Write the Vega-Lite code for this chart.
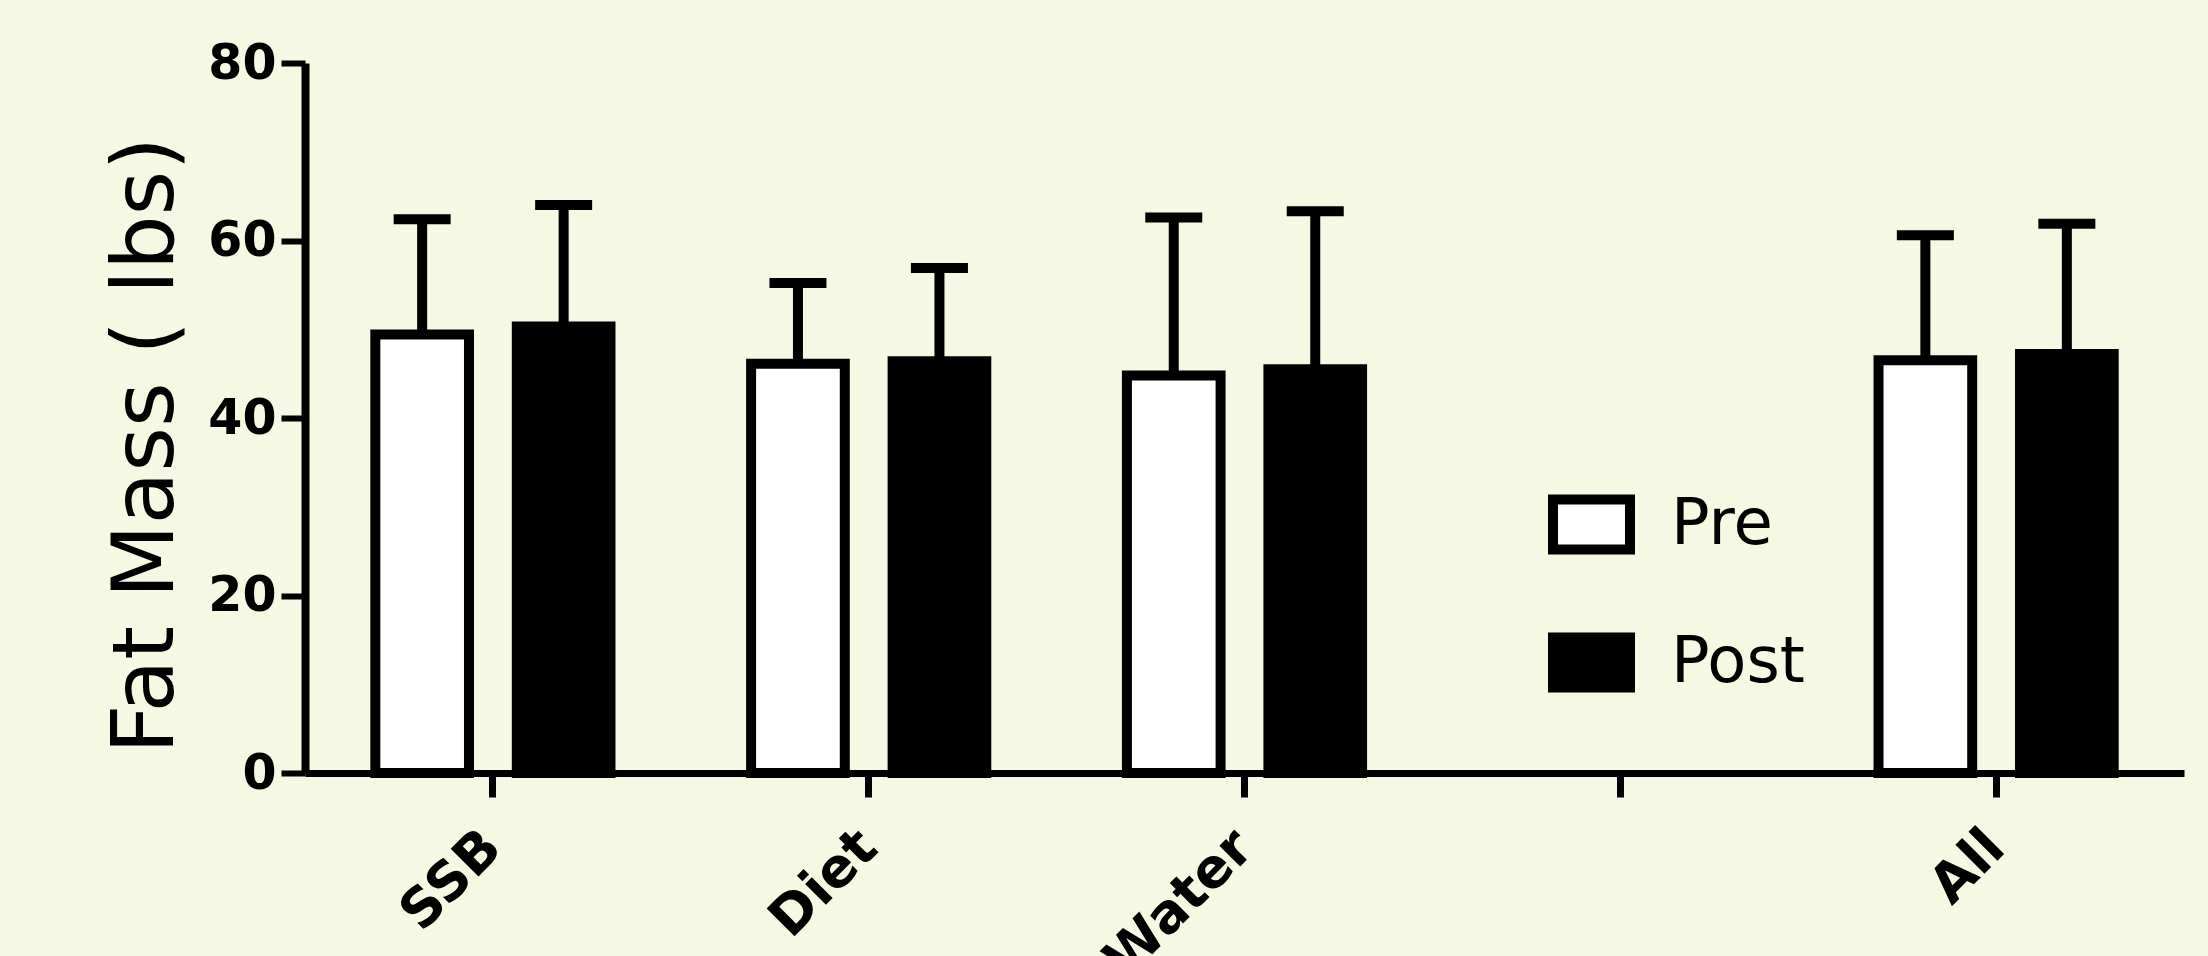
{
  "$schema": "https://vega.github.io/schema/vega-lite/v6.json",
  "autosize": {"type": "none"},
  "padding": {"left": 305, "top": 63, "right": 24, "bottom": 183},
  "width": 1879,
  "height": 710,
  "background": "#F5F8E2",
  "config": {"view": {"stroke": null}, "font": "DejaVu Sans"},
  "data": {
    "values": [
      {"group": "SSB", "time": "Pre", "mean": 49.4, "upper": 62.4},
      {"group": "SSB", "time": "Post", "mean": 50.3, "upper": 64.0},
      {"group": "Diet", "time": "Pre", "mean": 46.1, "upper": 55.2},
      {"group": "Diet", "time": "Post", "mean": 46.4, "upper": 56.9},
      {"group": "Water", "time": "Pre", "mean": 44.8, "upper": 62.6},
      {"group": "Water", "time": "Post", "mean": 45.5, "upper": 63.3},
      {"group": "All", "time": "Pre", "mean": 46.5, "upper": 60.6},
      {"group": "All", "time": "Post", "mean": 47.2, "upper": 61.9}
    ]
  },
  "encoding": {
    "x": {
      "field": "group",
      "type": "nominal",
      "sort": ["SSB", "Diet", "Water", " ", "All"],
      "scale": {"domain": ["SSB", "Diet", "Water", " ", "All"], "paddingInner": 0, "paddingOuter": 0},
      "axis": {
        "title": null,
        "labelAngle": -45,
        "labelAlign": "right",
        "labelBaseline": "middle",
        "labelFont": "DejaVu Sans",
        "labelFontWeight": "bold",
        "labelFontSize": 54,
        "labelColor": "black",
        "labelPadding": 42,
        "labelLimit": 0,
        "labelOverlap": false,
        "tickSize": 24,
        "tickWidth": 7,
        "tickColor": "black",
        "domainColor": "black",
        "domainWidth": 7
      }
    },
    "xOffset": {
      "field": "time",
      "type": "nominal",
      "sort": ["Pre", "Post"],
      "scale": {"paddingInner": 0.338, "paddingOuter": 0.497}
    }
  },
  "layer": [
    {
      "mark": {"type": "bar", "stroke": "black", "strokeWidth": 10},
      "encoding": {
        "y": {
          "field": "mean",
          "type": "quantitative",
          "scale": {"domain": [0, 80], "nice": false},
          "axis": {
            "title": "Fat Mass ( lbs)",
            "titleFont": "DejaVu Sans",
            "titleFontWeight": "normal",
            "titleFontSize": 86,
            "titleColor": "black",
            "titleAngle": -90,
            "titleAlign": "center",
            "titleBaseline": "alphabetic",
            "titleX": -133,
            "titleY": 382,
            "values": [0, 20, 40, 60, 80],
            "grid": false,
            "labelFont": "DejaVu Sans",
            "labelFontWeight": "bold",
            "labelFontSize": 49,
            "labelColor": "black",
            "labelPadding": 5,
            "tickSize": 24,
            "tickWidth": 6,
            "tickColor": "black",
            "domainColor": "black",
            "domainWidth": 8
          }
        },
        "fill": {
          "field": "time",
          "type": "nominal",
          "scale": {"domain": ["Pre", "Post"], "range": ["white", "black"]},
          "legend": {
            "title": null,
            "orient": "none",
            "legendX": 1243,
            "legendY": 418,
            "padding": 0,
            "symbolType": "M-1,-0.65H1V0.65H-1Z",
            "symbolSize": 5929,
            "symbolStrokeColor": "black",
            "symbolStrokeWidth": 10,
            "symbolOpacity": 1,
            "labelFont": "DejaVu Sans",
            "labelFontSize": 64,
            "labelColor": "black",
            "labelOffset": 36,
            "rowPadding": 47
          }
        }
      }
    },
    {
      "mark": {"type": "rule", "color": "black", "strokeWidth": 10},
      "encoding": {
        "y": {"field": "mean", "type": "quantitative"},
        "y2": {"field": "upper"}
      }
    },
    {
      "mark": {"type": "tick", "color": "black", "thickness": 10, "size": 57, "opacity": 1},
      "encoding": {
        "y": {"field": "upper", "type": "quantitative"}
      }
    }
  ]
}
